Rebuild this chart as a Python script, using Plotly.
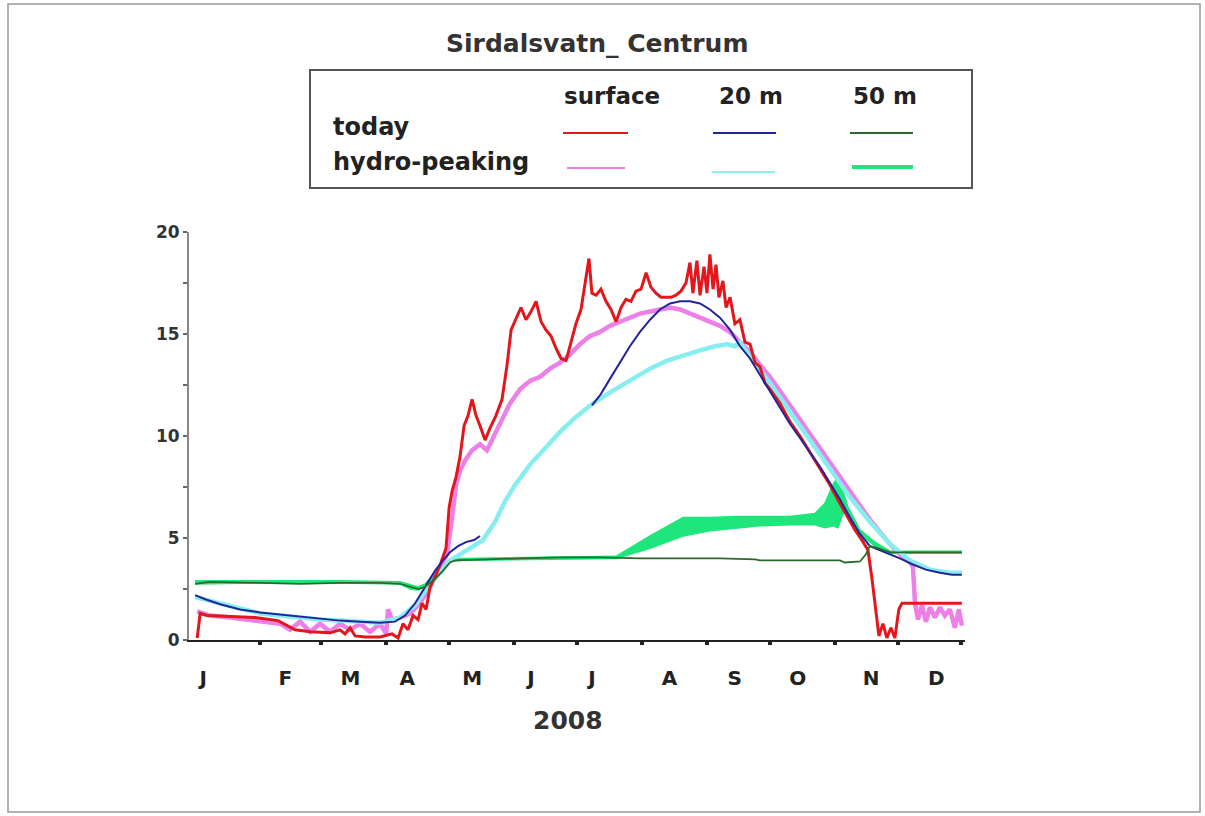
import pandas as pd
import plotly.graph_objects as go

W, H = 1205, 816
BASE = pd.Timestamp("2008-01-01")

# ---- data: day of year 2008 (0 = 1 Jan) and water temperature (deg C) ----
surf_today_day = [1.0, 2.4, 5.7, 16.7, 28.6, 39.5, 47.6, 54.8, 64.3, 69.0, 71.4, 73.8, 76.2, 81.0,
                  88.1, 93.8, 96.7, 99.0, 101.4, 103.8, 106.2, 108.1, 110.0, 111.9, 114.8, 117.1,
                  119.5, 121.0, 122.4, 124.3, 126.2, 128.1, 130.0, 131.9, 133.8, 135.7, 138.1,
                  140.5, 143.3, 146.2, 148.6, 150.5, 152.9, 155.2, 157.6, 160.0, 162.4, 164.8,
                  167.1, 169.5, 171.9, 174.3, 176.7, 179.0, 181.4, 183.8, 186.2, 187.6, 189.0,
                  191.0, 193.3, 195.7, 198.1, 200.5, 202.9, 205.2, 207.6, 210.0, 212.4, 214.8,
                  217.1, 219.5, 221.9, 224.3, 226.7, 229.0, 231.4, 233.8, 235.7, 237.1, 239.0,
                  240.5, 242.4, 243.8, 245.2, 246.7, 248.1, 249.5, 251.4, 252.9, 254.8, 257.1,
                  259.5, 261.9, 264.3, 266.7, 269.0, 271.4, 273.8, 278.6, 283.3, 288.1, 292.9,
                  297.6, 302.4, 307.1, 310.9, 314.3, 317.6, 320.5, 322.4, 324.3, 325.7, 327.6,
                  329.5, 331.4, 333.3, 335.2, 336.7, 350.0, 365.2]
surf_today_val = [0.1, 1.3, 1.2, 1.15, 1.1, 0.95, 0.5, 0.4, 0.35, 0.5, 0.3, 0.6, 0.2, 0.15,
                  0.15, 0.3, 0.1, 0.8, 0.5, 1.2, 1.0, 1.8, 1.5, 2.6, 3.2, 3.8,
                  4.5, 6.5, 7.3, 8.0, 9.0, 10.5, 11.0, 11.8, 11.0, 10.5, 9.8,
                  10.4, 11.0, 11.8, 13.5, 15.2, 15.8, 16.3, 15.7, 16.1, 16.6, 15.6,
                  15.2, 14.9, 14.3, 13.8, 13.7, 14.6, 15.5, 16.2, 17.8, 18.7, 17.0,
                  16.9, 17.2, 16.6, 16.2, 15.6, 16.3, 16.7, 16.6, 17.1, 17.2, 18.0,
                  17.3, 17.0, 16.8, 16.8, 16.8, 16.9, 17.1, 17.5, 18.5, 17.0, 18.6,
                  16.9, 18.3, 17.0, 18.9, 17.2, 18.4, 16.8, 17.6, 16.3, 16.8, 15.5,
                  15.7, 14.6, 14.5, 13.6, 13.4, 12.6, 12.3, 11.6, 10.7, 10.0, 9.2,
                  8.4, 7.6, 6.7, 6.0, 5.4, 4.9, 4.4, 3.0, 1.5, 0.2, 0.8,
                  0.1, 0.6, 0.1, 1.5, 1.8, 1.8, 1.8]

m20_today_day = [0.0, 4.8, 11.9, 21.4, 31.0, 40.5, 50.0, 59.5, 69.0, 78.6, 88.1, 95.2, 100.0,
                 104.8, 109.5, 114.3, 118.1, 121.4, 125.2, 129.0, 132.9, 135.7, 136.5,
                 189.0, 192.9, 197.6, 202.4, 207.1, 211.9, 216.7, 221.4, 226.2, 231.0, 235.7,
                 240.5, 245.2, 250.0, 254.8, 259.5, 264.3, 269.0, 273.8, 278.6, 283.3, 288.1,
                 292.9, 297.6, 302.4, 307.1, 311.9, 316.7, 321.4, 326.2, 331.0, 335.7, 341.9,
                 348.1, 354.8, 360.5, 365.2]
m20_today_val = [2.2, 2.0, 1.75, 1.5, 1.35, 1.25, 1.15, 1.05, 0.95, 0.9, 0.85, 0.9, 1.2,
                 1.8, 2.6, 3.4, 3.9, 4.3, 4.6, 4.8, 4.9, 5.1, None,
                 11.5, 12.0, 12.8, 13.6, 14.4, 15.1, 15.7, 16.2, 16.5, 16.6, 16.6,
                 16.5, 16.2, 15.8, 15.2, 14.4, 13.8, 13.0, 12.2, 11.4, 10.6, 9.9,
                 9.2, 8.5, 7.7, 6.9, 6.0, 5.2, 4.6, 4.4, 4.2, 4.0, 3.7,
                 3.45, 3.3, 3.2, 3.2]

m50_today_day = [0.0, 7.1, 31.0, 50.0, 69.0, 88.1, 97.6, 102.4, 106.2, 109.5, 114.3, 118.1,
                 121.4, 123.8, 135.7, 154.8, 173.8, 192.9, 211.9, 231.0, 250.0, 266.7, 269.0,
                 288.1, 307.1, 309.5, 316.7, 319.5, 321.4, 325.2, 331.0, 365.2]
m50_today_val = [2.75, 2.85, 2.8, 2.75, 2.8, 2.8, 2.75, 2.6, 2.5, 2.6, 3.0, 3.4,
                 3.8, 3.9, 3.95, 4.0, 4.05, 4.05, 4.0, 4.0, 4.0, 3.95, 3.9,
                 3.9, 3.9, 3.8, 3.85, 4.2, 4.6, 4.5, 4.3, 4.3]

surf_hp_day = [1.0, 7.1, 16.7, 31.0, 40.5, 45.2, 50.0, 54.8, 59.5, 64.3, 69.0, 73.8, 78.6,
               83.3, 88.1, 91.0, 91.9, 93.8, 97.6, 102.4, 107.1, 111.9, 116.7, 120.0, 122.4,
               124.3, 126.2, 128.6, 131.9, 135.7, 139.0, 141.9, 145.2, 150.0, 154.8, 159.5,
               164.3, 169.0, 173.8, 178.6, 183.3, 188.1, 192.9, 197.6, 202.4, 207.1, 211.9,
               216.7, 221.4, 226.2, 231.0, 235.7, 240.5, 245.2, 250.0, 254.8, 259.5, 264.3,
               269.0, 273.8, 278.6, 283.3, 288.1, 292.9, 297.6, 302.4, 307.1, 311.9, 316.7,
               321.4, 326.2, 331.0, 335.7, 340.5, 341.9, 342.9, 344.3, 346.2, 348.1, 350.0,
               352.4, 354.8, 357.1, 359.5, 361.9, 363.8, 365.2]
surf_hp_val = [1.4, 1.2, 1.1, 0.95, 0.8, 0.5, 0.9, 0.4, 0.8, 0.4, 0.8, 0.5, 0.8,
               0.4, 0.8, 0.3, 1.5, 1.0, 1.1, 1.3, 1.8, 2.6, 3.5, 4.2, 6.0,
               7.6, 8.3, 8.8, 9.3, 9.6, 9.3, 9.9, 10.5, 11.6, 12.3, 12.7,
               12.9, 13.3, 13.6, 14.0, 14.5, 14.9, 15.1, 15.4, 15.6, 15.8, 16.0,
               16.1, 16.2, 16.3, 16.2, 16.0, 15.8, 15.6, 15.4, 15.1, 14.6, 14.1,
               13.5, 12.9, 12.2, 11.5, 10.8, 10.1, 9.4, 8.7, 8.0, 7.3, 6.6,
               5.9, 5.3, 4.7, 4.2, 3.8, 3.6, 1.8, 1.0, 1.7, 0.9, 1.6,
               1.1, 1.6, 1.2, 1.5, 0.6, 1.5, 0.7]

m20_hp_day = [0.0, 31.0, 59.5, 88.1, 97.6, 104.8, 109.5, 116.7, 121.4, 126.2, 130.9, 137.1,
              142.9, 147.6, 152.4, 159.5, 166.7, 173.8, 181.0, 189.5, 198.6, 208.6, 216.7,
              224.8, 233.3, 240.5, 247.6, 253.3, 257.1, 259.5, 264.3, 273.8, 283.3, 292.9,
              302.4, 311.9, 321.4, 331.0, 340.5, 350.0, 359.5, 365.2]
m20_hp_val = [2.1, 1.3, 1.0, 0.85, 1.1, 1.7, 2.4, 3.3, 3.9, 4.2, 4.5, 4.9,
              5.8, 6.8, 7.6, 8.6, 9.4, 10.2, 10.9, 11.6, 12.2, 12.8, 13.3,
              13.7, 14.0, 14.2, 14.4, 14.5, 14.4, 14.6, 13.9, 12.6, 11.2, 9.8,
              8.4, 7.0, 5.8, 4.7, 3.9, 3.45, 3.3, 3.3]

m50_hp_day = [0.0, 31.0, 69.0, 97.6, 102.4, 106.2, 109.5, 114.3, 118.1, 121.4, 126.2, 154.8,
              192.9, 200.5, 216.7, 232.4, 245.2, 258.6, 269.0, 283.3, 295.2, 300.0, 303.8,
              306.2, 308.6, 311.0, 316.7, 323.8, 331.0, 365.2]
m50_hp_lo = [2.75, 2.8, 2.8, 2.75, 2.5, 2.45, 2.6, 3.1, 3.5, 3.85, 3.9, 3.95,
             4.0, 4.0, 4.5, 5.1, 5.35, 5.5, 5.6, 5.65, 5.65, 5.5, 5.6,
             5.5, 6.2, 6.2, 5.2, 4.6, 4.25, 4.25]
m50_hp_hi = [2.9, 2.9, 2.9, 2.85, 2.7, 2.6, 2.75, 3.3, 3.6, 3.95, 4.0, 4.05,
             4.1, 4.1, 5.1, 6.0, 6.0, 6.05, 6.05, 6.05, 6.2, 6.7, 7.6,
             8.0, 7.3, 6.5, 5.4, 4.8, 4.35, 4.35]

# month letters and where they sit (day of year)
month_letters = ["J", "F", "M", "A", "M", "J", "J", "A", "S", "O", "N", "D"]
month_label_day = [3.8, 43, 74, 101, 132, 160, 189, 226, 257, 287, 322, 353]
month_start = ["2008-%02d-01" % m for m in range(2, 13)] + ["2008-12-31"]

# colours
RED, BLUE, DKGREEN = "#e3161c", "#23239a", "#2a6a2a"
PINK, CYAN, GREEN = "#ec80e8", "#86eeee", "#1fe67c"
FONT = "DejaVu Sans"


def to_dates(days):
    return [BASE + pd.Timedelta(days=d) for d in days]


def px(x):
    return x / W


def py(y):
    return 1 - y / H


fig = go.Figure()

# hydro-peaking series (drawn first, underneath)
fig.add_trace(go.Scatter(x=to_dates(m50_hp_day), y=m50_hp_lo, mode="lines",
                         line=dict(color=GREEN, width=1.5), hoverinfo="skip"))
fig.add_trace(go.Scatter(x=to_dates(m50_hp_day), y=m50_hp_hi, mode="lines",
                         line=dict(color=GREEN, width=1.5), fill="tonexty",
                         fillcolor=GREEN, name="hydro-peaking 50 m"))
fig.add_trace(go.Scatter(x=to_dates(surf_hp_day), y=surf_hp_val, mode="lines",
                         line=dict(color=PINK, width=4.5), name="hydro-peaking surface"))
fig.add_trace(go.Scatter(x=to_dates(m20_hp_day), y=m20_hp_val, mode="lines",
                         line=dict(color=CYAN, width=4.5), name="hydro-peaking 20 m"))

# present-day series
fig.add_trace(go.Scatter(x=to_dates(surf_today_day), y=surf_today_val, mode="lines",
                         line=dict(color=RED, width=3), name="today surface"))
fig.add_trace(go.Scatter(x=to_dates(m20_today_day), y=m20_today_val, mode="lines",
                         line=dict(color=BLUE, width=2), connectgaps=False,
                         name="today 20 m"))
fig.add_trace(go.Scatter(x=to_dates(m50_today_day), y=m50_today_val, mode="lines",
                         line=dict(color=DKGREEN, width=1.8), name="today 50 m"))

# invisible trace carrying the month-letter axis
fig.add_trace(go.Scatter(x=[BASE], y=[None], xaxis="x2", mode="lines",
                         showlegend=False, hoverinfo="skip"))

x_range = ["2007-12-29 02:00", "2009-01-01 17:00"]
x_dom = [px(189), px(965)]

fig.update_layout(
    width=W, height=H,
    margin=dict(l=0, r=0, t=0, b=0),
    paper_bgcolor="white", plot_bgcolor="white",
    showlegend=False,
    font=dict(family=FONT, color="#222"),
    xaxis=dict(
        domain=x_dom, range=x_range, type="date", automargin=False,
        showgrid=False, zeroline=False,
        showline=True, linecolor="#222", linewidth=2,
        tickmode="array", tickvals=month_start, showticklabels=False,
        ticks="outside", ticklen=3, tickwidth=4, tickcolor="#222",
    ),
    xaxis2=dict(
        domain=x_dom, range=x_range, type="date", overlaying="x", anchor="y",
        side="bottom", automargin=False, showgrid=False, zeroline=False,
        showline=False, ticks="",
        tickmode="array", tickvals=to_dates(month_label_day),
        ticktext=["<b>%s</b>" % m for m in month_letters],
        tickfont=dict(size=20, color="#222"), ticklabelstandoff=24,
    ),
    yaxis=dict(
        domain=[py(640), py(232)], range=[0, 20], automargin=False,
        showgrid=False, zeroline=False,
        showline=True, linecolor="#888", linewidth=2,
        tickmode="array", tickvals=[0, 5, 10, 15, 20],
        ticktext=["<b>%d</b>" % v for v in [0, 5, 10, 15, 20]],
        tickfont=dict(size=17, color="#333"),
        ticks="outside", ticklen=4, tickwidth=2, tickcolor="#666",
        minor=dict(tickvals=[2.5, 7.5, 12.5, 17.5], ticks="outside", ticklen=4,
                   tickwidth=2, tickcolor="#666"),
    ),
)

shapes = []
annotations = []

# outer frame
shapes.append(dict(type="rect", xref="paper", yref="paper",
                   x0=px(8), x1=px(1200), y0=py(812), y1=py(4),
                   line=dict(color="#9a9a9a", width=1.5)))

# title and axis caption
annotations.append(dict(text="<b>Sirdalsvatn_ Centrum</b>", xref="paper", yref="paper",
                        x=px(597), y=py(43), xanchor="center", yanchor="middle",
                        showarrow=False, font=dict(size=25, color="#333")))
annotations.append(dict(text="<b>2008</b>", xref="paper", yref="paper",
                        x=px(568), y=py(720), xanchor="center", yanchor="middle",
                        showarrow=False, font=dict(size=25, color="#333")))

# legend box
shapes.append(dict(type="rect", xref="paper", yref="paper",
                   x0=px(310), x1=px(972), y0=py(188), y1=py(70),
                   line=dict(color="#555", width=2)))

legend_cols = [("surface", 612), ("20 m", 751), ("50 m", 885)]
for txt, cx in legend_cols:
    annotations.append(dict(text="<b>%s</b>" % txt, xref="paper", yref="paper",
                            x=px(cx), y=py(96), xanchor="center", yanchor="middle",
                            showarrow=False, font=dict(size=23, color="#222")))
for txt, cy in [("today", 127), ("hydro-peaking", 162)]:
    annotations.append(dict(text="<b>%s</b>" % txt, xref="paper", yref="paper",
                            x=px(331), y=py(cy), xanchor="left", yanchor="middle",
                            showarrow=False, font=dict(size=24, color="#222")))

legend_keys = [
    (563, 628, 133, RED, 2), (713, 776, 133, BLUE, 2), (850, 913, 133, DKGREEN, 2),
    (567, 625, 168, PINK, 2), (712, 775, 172, CYAN, 2), (852, 913, 167, GREEN, 4),
]
for x0, x1, y, col, w in legend_keys:
    shapes.append(dict(type="line", xref="paper", yref="paper",
                       x0=px(x0), x1=px(x1), y0=py(y), y1=py(y),
                       line=dict(color=col, width=w)))

fig.update_layout(shapes=shapes, annotations=annotations)

fig.write_html("out.html")
